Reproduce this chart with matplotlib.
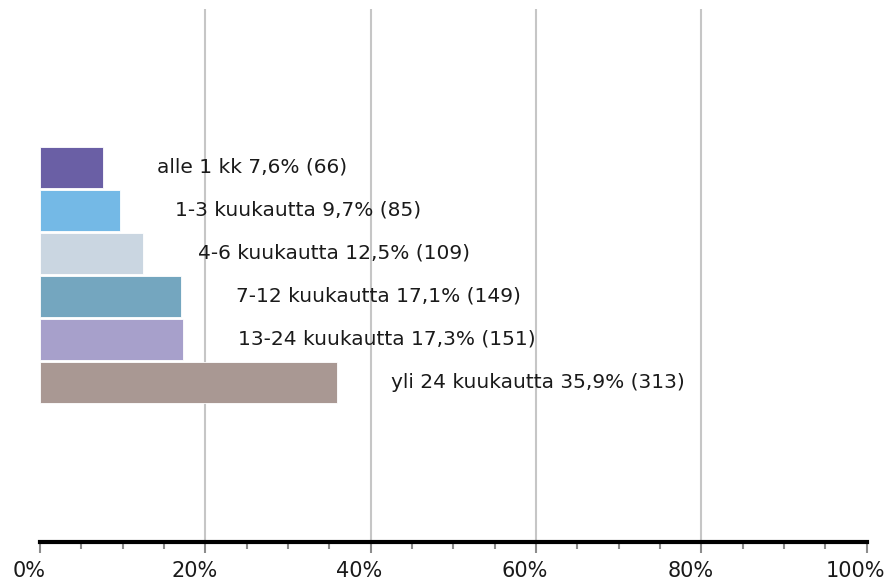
import numpy as np
import matplotlib
matplotlib.use("Agg")
import matplotlib.pyplot as plt
from matplotlib.ticker import MultipleLocator, FuncFormatter
from matplotlib.transforms import ScaledTranslation

# data
categories = ["alle 1 kk", "1-3 kuukautta", "4-6 kuukautta", "7-12 kuukautta",
              "13-24 kuukautta", "yli 24 kuukautta"]
percents = [7.6, 9.7, 12.5, 17.1, 17.3, 35.9]
counts = [66, 85, 109, 149, 151, 313]
colors = ["#6a5fa5", "#74b9e6", "#cad6e1", "#74a6bf", "#a7a0cb", "#a99893"]
grid_at = [20, 40, 60, 80]

plt.rcParams['font.family'] = ['DejaVu Sans']

fig = plt.figure(figsize=(8.86, 5.81), dpi=100)
ax = fig.add_axes([0.0451, 0.0676, 0.933, 0.917])

y = np.arange(len(categories))
ax.barh(y, percents, height=0.95, color=colors, edgecolor="white", linewidth=0.6, zorder=3)

for yi, cat, p, n in zip(y, categories, percents, counts):
    txt = f"{cat} {p:.1f}% ({n})".replace(".", ",")
    ax.text(p + 6.6, yi, txt, va="center", ha="left", fontsize=14.5, color="#1a1a1a", zorder=4)

# gridlines only at the inner major ticks
for g in grid_at:
    ax.axvline(g, color="#c6c6c6", linewidth=1.5, zorder=0)

ax.set_xlim(0, 100)
ax.set_ylim(8.70, -3.68)

ax.xaxis.set_major_locator(MultipleLocator(20))
ax.xaxis.set_minor_locator(MultipleLocator(5))
ax.xaxis.set_major_formatter(FuncFormatter(lambda v, pos: f"{v:.0f}%"))
ax.set_yticks([])

for s in ["left", "top", "right"]:
    ax.spines[s].set_visible(False)
ax.spines["bottom"].set_linewidth(3)
ax.spines["bottom"].set_color("black")
ax.spines["bottom"].set_zorder(5)

ax.tick_params(axis="x", which="major", length=8, width=1.5, color="#8c8c8c",
               labelsize=15, pad=6, labelcolor="#1a1a1a")
ax.tick_params(axis="x", which="minor", length=5, width=1.5, color="#8c8c8c")

shift = ScaledTranslation(-11 / 100, 0, fig.dpi_scale_trans)
for lab in ax.get_xticklabels():
    lab.set_transform(lab.get_transform() + shift)

fig.savefig("out.png", dpi=100)
